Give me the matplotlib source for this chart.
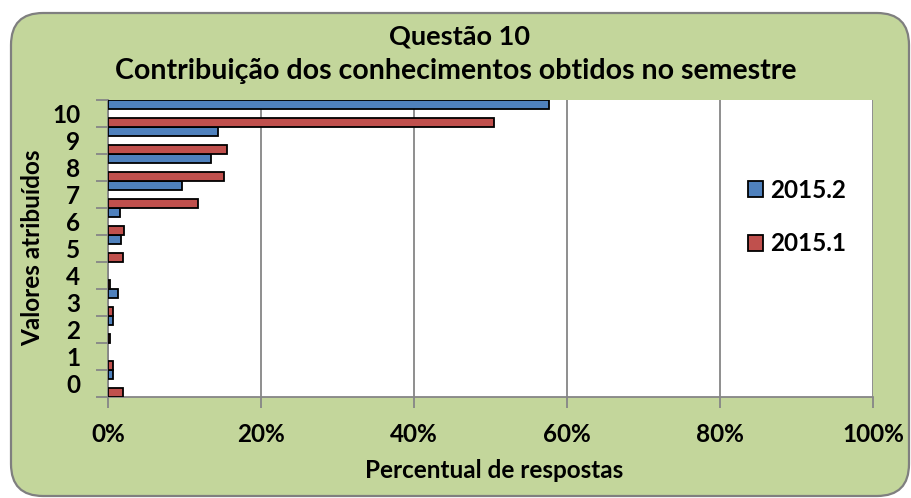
import matplotlib
matplotlib.use("Agg")
import matplotlib.pyplot as plt
from matplotlib.patches import FancyBboxPatch
from matplotlib.ticker import FixedLocator, PercentFormatter
import numpy as np

plt.rcParams['font.family'] = ['Lato', 'DejaVu Sans']

# Survey data: share of answers per score, two semesters
categories = ["0", "1", "2", "3", "4", "5", "6", "7", "8", "9", "10"]
serie_2015_2 = [0.6, 0.0, 0.6, 1.3, 0.0, 1.7, 1.6, 9.7, 13.4, 14.4, 57.6]
serie_2015_1 = [1.9, 0.7, 0.3, 0.7, 0.3, 1.9, 2.1, 11.7, 15.1, 15.6, 50.4]
series_names = ["2015.2", "2015.1"]
x_ticks = [0, 20, 40, 60, 80, 100]

title_1 = "Questão 10"
title_2 = "Contribuição dos conhecimentos obtidos no semestre"
x_title = "Percentual de respostas"
y_title = "Valores atribuídos"

W, H, DPI = 912, 498, 100
fig = plt.figure(figsize=(W / DPI, H / DPI), dpi=DPI)
fig.patch.set_facecolor("white")

# rounded chart-area background
bg = FancyBboxPatch((11 / DPI, 2 / DPI), 898 / DPI, 483 / DPI,
                    boxstyle="round,pad=0,rounding_size=0.32",
                    transform=fig.dpi_scale_trans,
                    facecolor="#C3D69B", edgecolor="#7F7F7F", linewidth=1.6,
                    zorder=-5)
fig.patches.append(bg)

left, right, top, bottom = 108, 873, 100, 397
ax = fig.add_axes([left / W, 1 - bottom / H, (right - left) / W, (bottom - top) / H])
ax.set_facecolor("white")

blue = "#4F81BD"
red = "#C0504D"
grid_c = "#868686"
FS = 17.5

y = np.arange(len(categories))
h = 1 / 3
b2 = np.array(serie_2015_2)
b1 = np.array(serie_2015_1)
ax.barh(y + h, b2, height=h, color=blue, edgecolor="black",
        linewidth=np.where(b2 > 0, 1.3, 0), label=series_names[0], zorder=3)
ax.barh(y - h, b1, height=h, color=red, edgecolor="black",
        linewidth=np.where(b1 > 0, 1.3, 0), label=series_names[1], zorder=3)

ax.set_xlim(0, 100)
ax.set_ylim(-0.5, len(categories) - 0.5)

ax.xaxis.set_major_locator(FixedLocator(x_ticks))
ax.xaxis.set_major_formatter(PercentFormatter(decimals=0))
ax.grid(axis="x", color=grid_c, linewidth=1.3, zorder=1)
ax.set_axisbelow(True)

# category boundaries carry the tick marks, labels sit at band centres
ax.yaxis.set_major_locator(FixedLocator(np.arange(-0.5, len(categories), 1.0)))
ax.yaxis.set_major_formatter(plt.NullFormatter())
ax.yaxis.set_minor_locator(FixedLocator(y))
ax.set_yticklabels(categories, minor=True)
ax.tick_params(axis="y", which="major", length=9, width=1.3, color=grid_c, direction="out")
ax.tick_params(axis="y", which="minor", length=0, pad=20, labelsize=FS)
ax.tick_params(axis="x", which="major", length=8, width=1.3, color=grid_c, direction="out",
               pad=11, labelsize=FS)
for lab in ax.get_xticklabels() + ax.get_yticklabels(minor=True):
    lab.set_fontweight("bold")

for s in ["top", "right"]:
    ax.spines[s].set_visible(False)
for s in ["left", "bottom"]:
    ax.spines[s].set_color(grid_c)
    ax.spines[s].set_linewidth(1.3)

fig.text(460 / W, 1 - 37 / H, title_1, ha="center", va="center",
         fontsize=19.5, fontweight="bold")
fig.text(456 / W, 1 - 71 / H, title_2, ha="center", va="center",
         fontsize=20.5, fontweight="bold")
fig.text(494 / W, 1 - 470 / H, x_title, ha="center", va="center",
         fontsize=FS, fontweight="bold")
fig.text(33 / W, 1 - 248 / H, y_title, ha="center", va="center", rotation=90,
         fontsize=FS, fontweight="bold")

handles, labels = ax.get_legend_handles_labels()
leg = ax.legend(handles, labels, loc="center left",
                bbox_to_anchor=((748 - left) / (right - left), (bottom - 217) / (bottom - top)),
                frameon=False, prop={"size": FS, "weight": "bold"},
                handlelength=0.62, handleheight=0.62, handletextpad=0.3,
                labelspacing=1.25, borderaxespad=0, borderpad=0)
for p in leg.get_patches():
    p.set_linewidth(1.3)

fig.savefig("out.png", dpi=DPI, facecolor=fig.get_facecolor())
